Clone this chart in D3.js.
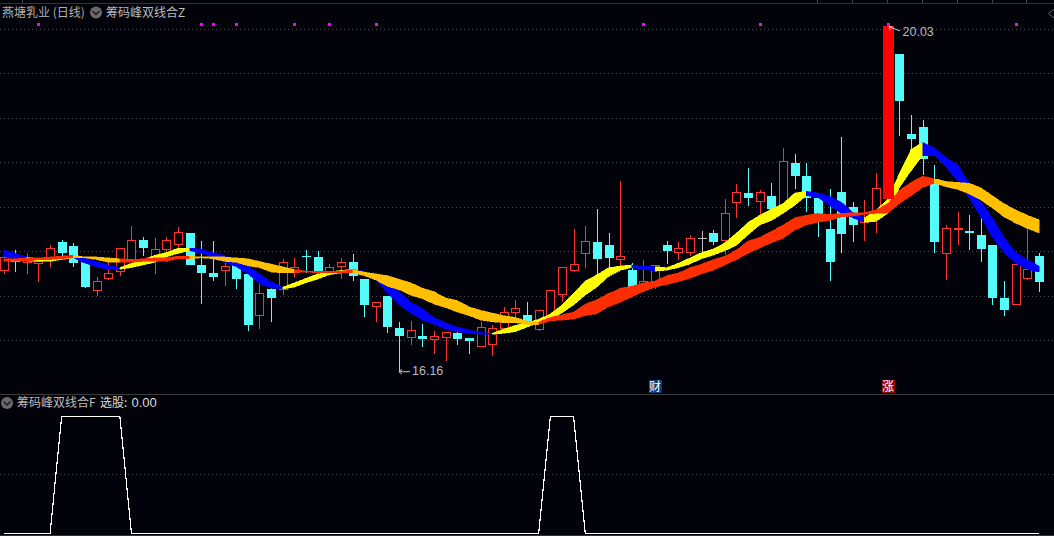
<!DOCTYPE html>
<html>
<head>
<meta charset="utf-8">
<script src="https://cdn.jsdelivr.net/npm/d3@7"></script>
<style>
html,body{margin:0;padding:0;background:#02020a;overflow:hidden}
svg{display:block}
text{font-family:"Noto Sans CJK SC","Noto Sans",sans-serif}
</style>
</head>
<body>
<svg id="chart" width="1054" height="536"></svg>
<script>
const open = [17.28,17.39,17.38,17.37,17.43,17.61,17.56,17.39,17.06,17.19,17.27,17.42,17.63,17.44,17.53,17.58,17.71,17.35,17.26,17.28,17.35,17.25,16.78,17.08,17.08,17.28,17.45,17.44,17.27,17.34,17.38,17.19,16.89,17.00,16.64,16.53,16.55,16.51,16.53,16.58,16.53,16.44,16.45,16.63,16.81,16.79,16.63,16.78,17.02,17.29,17.47,17.61,17.58,17.42,17.29,17.10,17.16,17.57,17.49,17.49,17.65,17.71,17.63,18.06,18.16,18.06,18.13,17.98,18.50,18.35,18.10,17.75,18.17,18.00,17.82,17.93,18.09,19.72,18.82,18.90,18.32,17.48,17.75,17.73,17.69,17.58,16.98,16.91,17.20,17.45];
const close = [17.43,17.38,17.41,17.39,17.54,17.49,17.37,17.10,17.16,17.25,17.53,17.63,17.54,17.52,17.63,17.71,17.35,17.26,17.22,17.33,17.19,16.67,17.03,16.98,17.38,17.32,17.44,17.26,17.32,17.38,17.23,16.90,16.93,16.65,16.55,16.61,16.52,16.54,16.59,16.52,16.49,16.65,16.63,16.81,16.86,16.70,16.84,17.06,17.32,17.36,17.61,17.42,17.43,17.45,17.10,17.16,17.34,17.51,17.54,17.65,17.65,17.61,17.93,18.17,18.10,18.16,17.98,18.52,18.35,18.10,17.83,17.38,17.70,17.80,17.88,18.21,20.03,19.19,18.77,18.54,17.61,17.76,17.76,17.71,17.53,16.98,16.84,17.36,17.30,17.16];
const high = [17.43,17.52,17.48,17.39,17.57,17.63,17.60,17.39,17.22,17.38,17.54,17.79,17.66,17.65,17.66,17.78,17.71,17.62,17.62,17.38,17.35,17.34,17.14,17.10,17.42,17.43,17.52,17.51,17.36,17.43,17.47,17.19,16.93,17.00,16.71,16.72,16.69,16.61,16.60,16.60,16.53,16.71,16.67,16.88,16.96,16.93,16.84,17.07,17.32,17.75,17.79,17.98,17.71,18.29,17.37,17.41,17.34,17.62,17.61,17.69,17.73,17.74,18.09,18.26,18.44,18.19,18.27,18.67,18.60,18.50,18.10,18.20,18.79,18.06,18.08,18.39,20.03,19.72,19.04,18.98,18.48,17.80,17.95,17.91,17.88,17.58,17.17,17.38,17.76,17.49];
const low = [17.25,17.27,17.25,17.16,17.33,17.45,17.33,17.09,17.00,17.18,17.23,17.38,17.45,17.25,17.38,17.54,17.35,16.91,17.17,17.11,17.08,16.61,16.63,16.71,17.01,17.22,17.26,17.26,17.24,17.19,17.17,16.77,16.71,16.58,16.16,16.45,16.43,16.35,16.27,16.45,16.35,16.43,16.33,16.63,16.73,16.70,16.61,16.76,16.93,17.27,17.32,17.22,17.29,17.33,17.10,17.07,17.08,17.36,17.41,17.45,17.48,17.58,17.46,17.88,18.01,17.90,17.98,17.98,18.20,17.95,17.66,17.17,17.48,17.61,17.62,17.71,18.09,18.80,18.62,18.36,17.48,17.18,17.58,17.52,17.38,16.90,16.78,16.91,17.18,17.05];

const fastHi = [17.52,17.48,17.44,17.42,17.43,17.44,17.45,17.43,17.39,17.35,17.32,17.37,17.41,17.46,17.49,17.54,17.54,17.53,17.49,17.46,17.39,17.34,17.25,17.16,17.10,17.15,17.20,17.25,17.27,17.29,17.30,17.28,17.22,17.13,17.05,16.93,16.86,16.76,16.70,16.65,16.62,16.59,16.58,16.63,16.67,16.70,16.74,16.80,16.90,17.03,17.17,17.24,17.32,17.34,17.35,17.34,17.33,17.32,17.37,17.43,17.49,17.53,17.60,17.71,17.83,17.91,17.98,18.04,18.16,18.18,18.16,18.12,18.06,17.94,17.88,17.97,18.09,18.38,18.65,18.73,18.67,18.56,18.48,18.27,18.06,17.88,17.66,17.49,17.41,17.34];
const fastLo = [17.44,17.42,17.39,17.39,17.39,17.41,17.43,17.37,17.33,17.30,17.30,17.32,17.35,17.38,17.44,17.48,17.51,17.48,17.44,17.38,17.33,17.25,17.14,17.09,17.08,17.10,17.15,17.19,17.24,17.26,17.27,17.26,17.18,17.03,16.90,16.81,16.73,16.68,16.63,16.60,16.58,16.57,16.57,16.58,16.60,16.65,16.70,16.73,16.81,16.90,17.01,17.10,17.22,17.29,17.32,17.30,17.28,17.29,17.32,17.36,17.42,17.46,17.51,17.57,17.69,17.80,17.85,17.93,18.02,18.13,18.11,18.02,17.93,17.88,17.83,17.84,17.93,18.22,18.41,18.58,18.58,18.45,18.30,18.10,17.89,17.66,17.49,17.37,17.30,17.27];
const slowHi = [17.42,17.42,17.43,17.43,17.44,17.45,17.46,17.44,17.44,17.43,17.42,17.41,17.42,17.43,17.43,17.45,17.45,17.44,17.44,17.44,17.43,17.42,17.39,17.36,17.33,17.30,17.28,17.28,17.28,17.28,17.30,17.27,17.25,17.23,17.19,17.15,17.09,17.05,16.98,16.95,16.88,16.84,16.81,16.78,16.76,16.72,16.71,16.76,16.79,16.82,16.91,16.96,17.03,17.09,17.11,17.15,17.17,17.23,17.26,17.32,17.36,17.41,17.45,17.52,17.62,17.66,17.73,17.80,17.88,17.91,17.93,17.92,17.93,17.94,17.94,17.97,18.04,18.19,18.28,18.35,18.32,18.29,18.28,18.27,18.22,18.13,18.04,17.97,17.91,17.86];
const slowLo = [17.39,17.39,17.39,17.41,17.41,17.42,17.43,17.43,17.41,17.38,17.38,17.38,17.39,17.39,17.39,17.42,17.42,17.43,17.42,17.39,17.38,17.34,17.32,17.27,17.26,17.26,17.27,17.26,17.26,17.26,17.26,17.23,17.18,17.11,17.07,17.01,16.97,16.91,16.87,16.82,16.78,16.73,16.71,16.70,16.70,16.68,16.68,16.72,16.73,16.74,16.78,16.80,16.88,16.93,16.99,17.05,17.10,17.13,17.16,17.20,17.25,17.29,17.35,17.41,17.48,17.54,17.60,17.65,17.74,17.80,17.83,17.85,17.89,17.90,17.92,17.93,17.93,18.04,18.13,18.22,18.27,18.23,18.20,18.15,18.08,17.99,17.89,17.82,17.76,17.71];

// trend flags per trading day: 1 rising, 0 falling
const fastRising = [0,0,0,1,1,1,1,0,0,0,0,1,1,1,1,1,1,0,0,0,0,0,0,0,0,1,1,1,1,1,1,0,0,0,0,0,0,0,0,0,0,0,0,1,1,1,1,1,1,1,1,1,1,1,1,0,0,1,1,1,1,1,1,1,1,1,1,1,1,1,0,0,0,0,0,1,1,1,1,1,0,0,0,0,0,0,0,0,0,0];
const slowRising = [1,1,1,1,1,1,1,0,0,0,0,1,1,1,1,1,1,0,0,0,0,0,0,0,0,0,1,1,1,1,1,0,0,0,0,0,0,0,0,0,0,0,0,0,0,0,0,1,1,1,1,1,1,1,1,1,1,1,1,1,1,1,1,1,1,1,1,1,1,1,1,1,1,1,1,1,1,1,1,1,1,0,0,0,0,0,0,0,0,0];

const signal = [0,0,0,0,0,1,1,1,1,1,1,0,0,0,0,0,0,0,0,0,0,0,0,0,0,0,0,0,0,0,0,0,0,0,0,0,0,0,0,0,0,0,0,0,0,0,0,1,1,1,0,0,0,0,0,0,0,0,0,0,0,0,0,0,0,0,0,0,0,0,0,0,0,0,0,0,0,0,0,0,0,0,0,0,0,0,0,0,0,0];
const markerDays = [3,17,18,20,25,28,32,55,65,76,87];
const priceTicks = [20,19.5,19,18.5,18,17.5,17,16.5];
const signalTicks = [0.5];
const topTicks = [22,817,852,887,922,957,992,1026];
const stockName = "燕塘乳业 (日线)";
const mainTitle = "筹码峰双线合Z";
const subTitle = "筹码峰双线合F";
const subLabel = "选股:";
const subValue = "0.00";
const limitDay = 76, lowDay = 34;
const badges = [{day:56,label:"财",fill:"#0b3c78"},{day:76,label:"涨",fill:"#8a0a0a"}];

const W = 1054, H = 536, BG = "#02020a";
const svg = d3.select("#chart");
svg.append("rect").attr("width",W).attr("height",H).attr("fill",BG);

const days = d3.range(open.length);
const x = d3.scaleLinear().domain([0,89]).range([3.5,1039]);
const y = d3.scaleLinear().domain([16.5,20]).range([340.5,29.5]);
const yS = d3.scaleLinear().domain([0,1]).range([533.5,416.5]);
const px = i => Math.round(x(i));
const snap = v => Math.floor(v)+0.5;

// frame
const frame = svg.append("g").attr("shape-rendering","crispEdges");
frame.append("line").attr("x1",0).attr("x2",W).attr("y1",3.5).attr("y2",3.5).attr("stroke","#333");
frame.selectAll(".tt").data(topTicks).join("line").attr("x1",d=>d+.5).attr("x2",d=>d+.5).attr("y1",0).attr("y2",3).attr("stroke","#444");
frame.append("line").attr("x1",0).attr("x2",W).attr("y1",394.5).attr("y2",394.5).attr("stroke","#3a3a3a");
frame.append("line").attr("x1",0).attr("x2",W).attr("y1",535.5).attr("y2",535.5).attr("stroke","#333");

// grid
const grid = svg.append("g").attr("shape-rendering","crispEdges").attr("stroke","#4a4a4a").attr("stroke-dasharray","1 3");
grid.selectAll(".p").data(priceTicks).join("line").attr("x1",0).attr("x2",W).attr("y1",d=>snap(y(d))).attr("y2",d=>snap(y(d)));
grid.selectAll(".s").data(signalTicks).join("line").attr("x1",0).attr("x2",W).attr("y1",d=>snap(yS(d)-.5)).attr("y2",d=>snap(yS(d)-.5)).attr("stroke-opacity",.8);

// candles
const RED="#ff3232", CYAN="#54fcfc", GREY="#c0c0c0";
const colorOf = i => close[i]>open[i] ? RED : close[i]<open[i] ? CYAN : GREY;
const candles = svg.append("g").attr("shape-rendering","crispEdges");
const normal = days.filter(i=>i!==limitDay);
candles.selectAll(".w").data(normal).join("line")
  .attr("x1",i=>px(i)+.5).attr("x2",i=>px(i)+.5)
  .attr("y1",i=>y(high[i])).attr("y2",i=>y(low[i]))
  .attr("stroke",colorOf);
candles.selectAll(".b").data(normal).join("rect")
  .attr("x",i=>close[i]>open[i]?px(i)-3.5:px(i)-4)
  .attr("width",i=>close[i]>open[i]?8:9)
  .attr("y",i=>{const t=y(Math.max(open[i],close[i]));return close[i]>open[i]?snap(t):t;})
  .attr("height",i=>Math.max(1,Math.abs(y(open[i])-y(close[i]))))
  .attr("fill",i=>close[i]>open[i]?BG:colorOf(i))
  .attr("stroke",i=>close[i]>open[i]?RED:"none");

// dual bands, one slice per day
function band(hi,lo,rising,upColor,downColor){
  const area = d3.area().x(i=>x(i)).y0(i=>y(lo[i])).y1(i=>y(hi[i]));
  const g = svg.append("g").attr("shape-rendering","crispEdges");
  g.selectAll("path").data(days.slice(1)).join("path")
    .attr("d",i=>area([i-1,i]))
    .attr("fill",i=>rising[i]?upColor:downColor)
    .attr("stroke",i=>rising[i]?upColor:downColor)
    .attr("stroke-width",0.5);
}
band(fastHi,fastLo,fastRising,"#ffff00","#0000ff");
band(slowHi,slowLo,slowRising,"#ff2e00","#ffc000");

// limit-up bar
svg.append("rect").attr("shape-rendering","crispEdges")
  .attr("x",px(limitDay)-5).attr("width",11)
  .attr("y",Math.floor(y(close[limitDay]))).attr("height",y(open[limitDay])-y(close[limitDay])+1)
  .attr("fill","#ff0000");

// magenta markers
svg.append("g").attr("shape-rendering","crispEdges").selectAll("rect").data(markerDays).join("rect")
  .attr("x",i=>Math.round(x(i))-1).attr("y",23).attr("width",3).attr("height",3).attr("fill","#ff00ff");

// high / low labels
const lab = svg.append("g").attr("font-size",12.5).attr("fill","#b4bcc6");
const lowY = y(low[lowDay]), lowX = px(lowDay);
lab.append("path").attr("d",`M${lowX+11},${lowY+1}H${lowX}l3,-2.5M${lowX},${lowY+1}l3,2.5`).attr("fill","none").attr("stroke","#c8c8c8");
lab.append("text").attr("x",lowX+13).attr("y",lowY+4.5).text(low[lowDay].toFixed(2)).style("font-family","'Liberation Sans',sans-serif");
const hiY = y(high[limitDay]), hiX = px(limitDay);
lab.append("path").attr("d",`M${hiX+12},${hiY+4}L${hiX+1},${hiY}l3.5,0M${hiX+1},${hiY}l1,3.5`).attr("fill","none").attr("stroke","#d8d8d8");
lab.append("text").attr("x",hiX+14.5).attr("y",hiY+9).text(high[limitDay].toFixed(2)).style("font-family","'Liberation Sans',sans-serif");

// event badges
const bg = svg.append("g").selectAll("g").data(badges).join("g").attr("transform",d=>`translate(${px(d.day)},0)`);
bg.append("rect").attr("x",-6.5).attr("y",380).attr("width",13).attr("height",13).attr("fill",d=>d.fill).attr("shape-rendering","crispEdges");
bg.append("text").attr("x",0).attr("y",391).attr("text-anchor","middle").attr("font-size",12).attr("fill","#fff").text(d=>d.label);

// signal panel line
const sLine = d3.line().x(i=>x(i)).y(i=>yS(signal[i]));
svg.append("path").attr("d",sLine(days)).attr("fill","none").attr("stroke","#fff").attr("stroke-width",1.2).attr("shape-rendering","crispEdges");

// titles
function chevron(cx,cy){
  svg.append("circle").attr("cx",cx).attr("cy",cy).attr("r",6).attr("fill","#6a6a6a");
  svg.append("path").attr("d",`M${cx-3.5},${cy-1.5}L${cx},${cy+2}L${cx+3.5},${cy-1.5}`).attr("fill","none").attr("stroke","#1a1a1a").attr("stroke-width",1.4);
}
const txt = (tx,ty,s,c)=>svg.append("text").attr("x",tx).attr("y",ty).attr("font-size",12).attr("fill",c).text(s);
txt(2,17,stockName,"#b0b0b0");
chevron(96,12.5);
txt(106,17,mainTitle,"#bcbcbc");
chevron(7,403);
txt(17,407,subTitle,"#bcbcbc");
txt(100,407,subLabel,"#dcdcdc");
txt(131.5,407,subValue,"#dcdcdc").attr("font-size",13).style("font-family","'Liberation Sans',sans-serif");

// right edge chevron
svg.append("path").attr("d","M1054,9.5L1048.5,13.5L1054,18").attr("fill","none").attr("stroke","#666");
</script>
</body>
</html>
